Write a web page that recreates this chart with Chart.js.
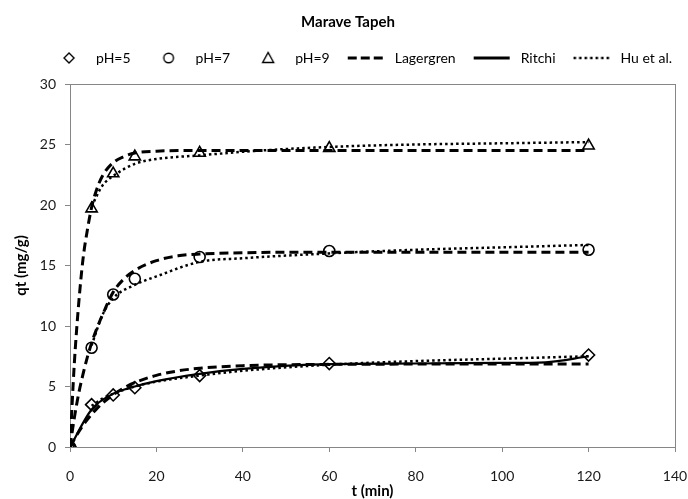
<!DOCTYPE html>
<html>
<head>
<meta charset="utf-8">
<script src="https://cdn.jsdelivr.net/npm/chart.js@4.4.0/dist/chart.umd.min.js"></script>
<style>
html,body{margin:0;padding:0;background:#fff;}
#wrap{width:688px;height:499px;position:relative;}
</style>
</head>
<body>
<div id="wrap"><canvas id="c"></canvas></div>
<script>
// ---- texts ----
const chartTitle = 'Marave Tapeh';
const xTitle = 't (min)';
const yTitle = 'qt (mg/g)';
const legendNames = ['pH=5', 'pH=7', 'pH=9', 'Lagergren', 'Ritchi', 'Hu et al.'];

// ---- axis ticks ----
const xTickValues = [0, 20, 40, 60, 80, 100, 120, 140];
const yTickValues = [0, 5, 10, 15, 20, 25, 30];

// ---- experimental points ----
const tObs = [0, 5, 10, 15, 30, 60, 120];
const qPH5 = [0, 3.5, 4.3, 4.9, 5.9, 6.9, 7.6];
const qPH7 = [0, 8.2, 12.6, 13.9, 15.7, 16.2, 16.3];
const qPH9 = [0, 19.7, 22.6, 24.0, 24.3, 24.7, 24.9];

// ---- Lagergren model curves (dashed) ----
const tLag = [0, 1, 2, 3, 4, 5, 6, 7.5, 10, 12.5, 15, 20, 25, 30, 40, 50, 60, 80, 100, 120];
const lagPH9 = [0, 6.9, 11.8, 15.5, 17.9, 19.8, 21.1, 22.4, 23.5, 24.0, 24.3, 24.45, 24.5, 24.5, 24.5, 24.5, 24.5, 24.5, 24.5, 24.5];
const lagPH7 = [0, 2.4, 4.4, 6.0, 7.4, 8.6, 9.6, 10.9, 12.8, 13.9, 14.6, 15.4, 15.8, 15.95, 16.05, 16.1, 16.1, 16.1, 16.1, 16.1];
const lagPH5 = [0, 0.65, 1.24, 1.78, 2.26, 2.7, 3.09, 3.61, 4.32, 4.89, 5.32, 5.92, 6.29, 6.51, 6.72, 6.8, 6.83, 6.85, 6.85, 6.85];

// ---- Ritchi model curve (solid) ----
const tRit = [0, 5, 10, 15, 20, 30, 40, 60, 80, 100, 110, 120];
const ritPH5 = [0, 3.1, 4.4, 5.0, 5.45, 6.05, 6.45, 6.85, 6.9, 6.95, 7.0, 7.5];

// ---- Hu et al. model curves (dotted) ----
const tHu = [5, 7.5, 10, 15, 20, 30, 40, 60, 80, 100, 120];
const huPH9 = [19.9, 21.6, 22.4, 23.4, 23.8, 24.1, 24.4, 24.8, 25.0, 25.1, 25.2];
const huPH7 = [8.4, 10.9, 12.3, 13.4, 14.1, 15.3, 15.6, 16.0, 16.3, 16.5, 16.7];
const huPH5 = [3.4, 4.0, 4.4, 5.0, 5.4, 5.9, 6.3, 6.8, 7.1, 7.3, 7.5];

const FONT = 'Lato, "Open Sans", sans-serif';
const AXIS = '#868686';
const INK = '#000000';

function pts(xs, ys) { return xs.map((x, i) => ({x: x, y: ys[i]})); }

function markerSet(label, ys, style, r) {
  return {label: label, data: pts(tObs, ys), showLine: false, pointStyle: style,
    pointRadius: r, pointHoverRadius: r, pointBorderColor: INK, pointBackgroundColor: 'rgba(255,255,255,0)',
    pointBorderWidth: 1.6, order: 0};
}
function curveSet(label, xs, ys, dash, w) {
  return {label: label, data: pts(xs, ys), showLine: true, borderColor: INK, borderWidth: w,
    borderDash: dash, pointRadius: 0, pointHoverRadius: 0, cubicInterpolationMode: 'monotone',
    fill: false, order: 1};
}

const DASH = [9, 5];
const DOT = [2.5, 3];

const datasets = [
  markerSet(legendNames[0], qPH5, 'rectRot', 6),
  markerSet(legendNames[1], qPH7, 'circle', 5.5),
  markerSet(legendNames[2], qPH9, 'triangle', 6.5),
  curveSet(legendNames[3], tLag, lagPH9, DASH, 3),
  curveSet(legendNames[3], tLag, lagPH7, DASH, 3),
  curveSet(legendNames[3], tLag, lagPH5, DASH, 3),
  curveSet(legendNames[4], tRit, ritPH5, [], 2.2),
  curveSet(legendNames[5], tHu, huPH9, DOT, 2.5),
  curveSet(legendNames[5], tHu, huPH7, DOT, 2.5),
  curveSet(legendNames[5], tHu, huPH5, DOT, 2.5)
];

// legend symbols drawn as small canvases
const SYM_W = 44, SYM_H = 14;
function symCanvas(kind) {
  const cv = document.createElement('canvas');
  cv.width = SYM_W; cv.height = SYM_H;
  const g = cv.getContext('2d');
  g.strokeStyle = INK; g.fillStyle = INK;
  const cx = 24, cy = SYM_H / 2;
  g.lineWidth = 1.4;
  if (kind === 'diamond') {
    g.beginPath(); g.moveTo(cx, cy - 5); g.lineTo(cx + 5, cy); g.lineTo(cx, cy + 5); g.lineTo(cx - 5, cy); g.closePath(); g.stroke();
  } else if (kind === 'circle') {
    g.beginPath(); g.arc(cx, cy, 4.8, 0, Math.PI * 2); g.stroke();
  } else if (kind === 'triangle') {
    g.beginPath(); g.moveTo(cx, cy - 5.5); g.lineTo(cx + 5.5, cy + 4.5); g.lineTo(cx - 5.5, cy + 4.5); g.closePath(); g.stroke();
  } else {
    g.lineWidth = kind === 'dot' ? 2.5 : 3.2;
    g.setLineDash(kind === 'dash' ? [9, 4] : kind === 'dot' ? [2.5, 3] : []);
    g.beginPath(); g.moveTo(4, cy); g.lineTo(SYM_W - 4, cy); g.stroke();
  }
  return cv;
}
const legendSyms = ['diamond', 'circle', 'triangle', 'dash', 'solid', 'dot'].map(symCanvas);

new Chart(document.getElementById('c'), {
  type: 'scatter',
  data: {datasets: datasets},
  options: {
    responsive: true,
    maintainAspectRatio: false,
    devicePixelRatio: 1,
    animation: false,
    layout: {padding: {left: 10, right: 2, top: 7, bottom: 0}},
    plugins: {
      tooltip: {enabled: false},
      title: {display: true, text: chartTitle, color: INK,
        font: {family: FONT, size: 15, weight: 'bold'}, padding: {top: 6, bottom: 6}},
      legend: {
        display: true, position: 'top', align: 'end', onClick: null,
        labels: {
          usePointStyle: true, pointStyleWidth: SYM_W, boxHeight: SYM_H,
          padding: 14, color: INK, font: {family: FONT, size: 14},
          generateLabels: () => legendNames.map((n, i) => ({
            text: n, pointStyle: legendSyms[i], fillStyle: INK, strokeStyle: INK,
            lineWidth: 0, hidden: false, fontColor: INK, datasetIndex: i
          }))
        }
      }
    },
    scales: {
      x: {
        type: 'linear', position: 'bottom', min: 0, max: 140,
        afterBuildTicks: s => { s.ticks = xTickValues.map(v => ({value: v})); },
        afterFit: s => { s.height = 52; s.paddingRight = 13; s.paddingLeft = 0; },
        ticks: {color: '#1a1a1a', font: {family: FONT, size: 14}, padding: 16},
        grid: {drawOnChartArea: false, drawTicks: true, tickLength: 5, color: AXIS},
        border: {display: true, color: AXIS, width: 1},
        title: {display: true, text: xTitle, color: INK, font: {family: FONT, size: 15, weight: 'bold', lineHeight: 1}, padding: {top: 0, bottom: 0}}
      },
      y: {
        type: 'linear', position: 'left', min: 0, max: 30,
        afterBuildTicks: s => { s.ticks = yTickValues.map(v => ({value: v})); },
        afterFit: s => { s.width = 60; },
        ticks: {color: '#1a1a1a', font: {family: FONT, size: 14}, padding: 9},
        grid: {drawOnChartArea: false, drawTicks: true, tickLength: 5, color: AXIS},
        border: {display: true, color: AXIS, width: 1},
        title: {display: true, text: yTitle, color: INK, font: {family: FONT, size: 15, weight: 'bold'}, padding: {top: 2, bottom: 0}}
      },
      xTop: {
        type: 'linear', axis: 'x', position: 'top', min: 0, max: 140,
        afterFit: s => { s.height = 9; },
        ticks: {display: false}, grid: {display: false},
        border: {display: true, color: AXIS, width: 1}
      },
      yRight: {
        type: 'linear', axis: 'y', position: 'right', min: 0, max: 30,
        afterFit: s => { s.width = 0; },
        ticks: {display: false}, grid: {display: false},
        border: {display: true, color: AXIS, width: 1}
      }
    }
  }
});
</script>
</body>
</html>
